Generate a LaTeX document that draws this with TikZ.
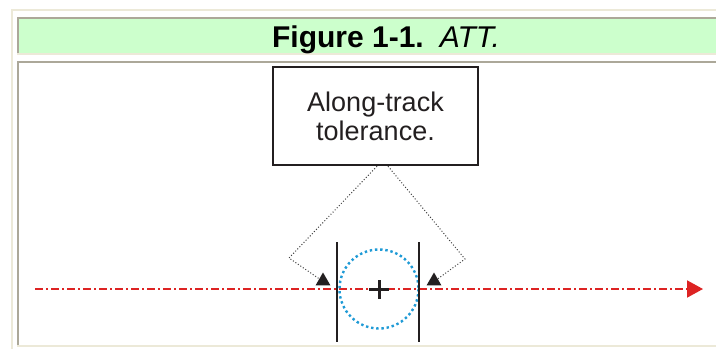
\documentclass[tikz,border=0pt]{standalone}
\usepackage{fontspec}
\setmainfont{Liberation Sans}
\usetikzlibrary{arrows.meta,shapes.geometric}

\definecolor{panelbeige}{HTML}{ECE9D8}
\definecolor{panelgray}{HTML}{ACA899}
\definecolor{headgreen}{HTML}{CCFFCC}
\definecolor{trackred}{HTML}{DD2323}
\definecolor{zoneblue}{HTML}{1E9AD6}
\definecolor{inkdark}{HTML}{231F20}

\begin{document}
\begin{tikzpicture}[x=1pt, y=-1pt,
    tolbox/.style={draw=inkdark, line width=2.4pt, minimum width=205pt, minimum height=98pt, inner sep=0pt, align=center, font=\fontsize{27}{29}\selectfont, text=inkdark},
    dotline/.style={dotted, line width=1pt, black!75},
    arrowtri/.style={regular polygon, regular polygon sides=3, fill=inkdark, minimum size=17pt, inner sep=0pt, outer sep=0pt},
    trackline/.style={draw=trackred, line width=2pt, dash pattern=on 8pt off 3pt on 2pt off 3pt, -{Triangle[length=16pt, width=17pt]}},
    bar/.style={line width=2.8pt, inkdark},
]
% Frame
\fill[white] (0,0) rectangle (716,349);
\useasboundingbox (0,0) rectangle (716,349);
\fill[panelbeige] (11,9) rectangle (716,11);
\fill[panelbeige] (11,9) rectangle (13,349);

% Heading cell
\fill[headgreen] (17,17) rectangle (716,55);
\fill[panelgray] (17,17) rectangle (716,19);
\fill[panelgray] (17,17) rectangle (19,55);
\fill[panelbeige] (17,53) rectangle (716,55);
\node[anchor=base, font=\fontsize{30}{34}\selectfont, text=black] (title) at (386,47) {\textbf{Figure 1-1.}\hspace*{16pt}\textit{ATT.}};

% Body cell
\fill[panelgray] (17,61) rectangle (716,63);
\fill[panelgray] (17,61) rectangle (19,345);
\fill[panelbeige] (17,345) rectangle (716,347);

% Track
\coordinate (trackS) at (35,289);
\coordinate (trackE) at (703,289);
\draw[trackline] (trackS) -- (trackE);

% Tolerance zone
\coordinate (fix) at (379,289);
\draw[zoneblue, line width=2.4pt, dash pattern=on 2.4pt off 2.8pt] (fix) circle[radius=39.5];
\draw[bar] (337,242) -- (337,342);
\draw[bar] (419,242) -- (419,342);
\draw[line width=3pt, inkdark] (369,289) -- (389,289) (379,280) -- (379,299);

% Label and pointers
\node[tolbox] (box) at (375.5,116) {Along-track\\tolerance.};
\node[arrowtri] (triL) at (323,281) {};
\node[arrowtri] (triR) at (434,281) {};
\coordinate (bendL) at (289,258);
\coordinate (bendR) at (465,259);
\draw[dotline] ([xshift=1.5pt]box.south) -- (bendL) -- (triL.side 1);
\draw[dotline] ([xshift=12.5pt]box.south) -- (bendR) -- (triR.side 3);
\end{tikzpicture}
\end{document}
